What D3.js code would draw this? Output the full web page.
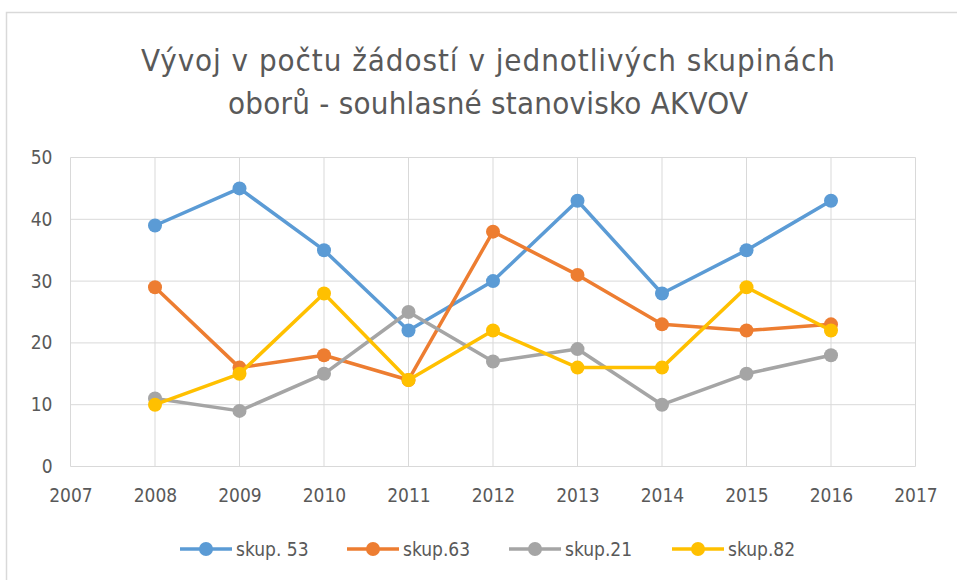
<!DOCTYPE html>
<html>
<head>
<meta charset="utf-8">
<script src="https://cdn.jsdelivr.net/npm/d3@7"></script>
<style>
  body { margin: 0; background: #fff; }
  text { font-family: "DejaVu Sans Condensed", "Liberation Sans Narrow", sans-serif; fill: #595959; }
</style>
</head>
<body>
<div id="chart-area"></div>
<script>
'use strict';
const svg_width = 957;
const svg_height = 580;

const years = [2008, 2009, 2010, 2011, 2012, 2013, 2014, 2015, 2016];
const x_ticks = [2007, 2008, 2009, 2010, 2011, 2012, 2013, 2014, 2015, 2016, 2017];
const y_ticks = [0, 10, 20, 30, 40, 50];
const series_names = ['skup. 53', 'skup.63', 'skup.21', 'skup.82'];
const series_colors = ['#5b9bd5', '#ed7d31', '#a5a5a5', '#ffc000'];
const skup53 = [39, 45, 35, 22, 30, 43, 28, 35, 43];
const skup63 = [29, 16, 18, 14, 38, 31, 23, 22, 23];
const skup21 = [11, 9, 15, 25, 17, 19, 10, 15, 18];
const skup82 = [10, 15, 28, 14, 22, 16, 16, 29, 22];
const title_lines = ['Vývoj v počtu žádostí v jednotlivých skupinách', 'oborů - souhlasné stanovisko AKVOV'];

const all_series = [skup53, skup63, skup21, skup82];

const svg = d3.select('#chart-area')
  .append('svg')
    .attr('width', svg_width)
    .attr('height', svg_height);

// outer chart frame
svg.append('rect')
  .attr('x', 6.5).attr('y', 12.5)
  .attr('width', 960).attr('height', 600)
  .attr('fill', 'none')
  .attr('stroke', '#d9d9d9')
  .attr('stroke-width', 1.5);

const x_scale = d3.scaleLinear()
  .domain([2007, 2017])
  .range([70.5, 915.5]);

const y_scale = d3.scaleLinear()
  .domain([0, 50])
  .range([466.5, 157.5]);

// gridlines
svg.append('g').selectAll('line').data(y_ticks).enter()
  .append('line')
    .attr('x1', x_scale(2007)).attr('x2', x_scale(2017))
    .attr('y1', d => y_scale(d)).attr('y2', d => y_scale(d))
    .attr('stroke', '#d9d9d9').attr('stroke-width', 1);

svg.append('g').selectAll('line').data(x_ticks).enter()
  .append('line')
    .attr('x1', d => x_scale(d)).attr('x2', d => x_scale(d))
    .attr('y1', y_scale(0)).attr('y2', y_scale(50))
    .attr('stroke', '#d9d9d9').attr('stroke-width', 1);

// axes labels
const x_axis = d3.axisBottom(x_scale).tickValues(x_ticks).tickFormat(d3.format('d')).tickSize(0).tickPadding(22);
const y_axis = d3.axisLeft(y_scale).tickValues(y_ticks).tickSize(0).tickPadding(18);

svg.append('g')
  .attr('class', 'axis')
  .attr('transform', `translate(0,${y_scale(0)})`)
  .call(x_axis)
  .call(g => g.select('.domain').remove())
  .selectAll('text').attr('font-size', 19).attr('font-family', null).attr('fill', '#595959');

svg.append('g')
  .attr('class', 'axis')
  .attr('transform', `translate(${x_scale(2007)},0)`)
  .call(y_axis)
  .call(g => g.select('.domain').remove())
  .selectAll('text').attr('font-size', 19).attr('font-family', null).attr('fill', '#595959');

// lines + markers
const line = d3.line()
  .x((d, i) => x_scale(years[i]))
  .y(d => y_scale(d));

all_series.forEach((s, k) => {
  const g = svg.append('g');
  g.append('path')
    .datum(s)
    .attr('d', line)
    .attr('fill', 'none')
    .attr('stroke', series_colors[k])
    .attr('stroke-width', 3.5)
    .attr('stroke-linejoin', 'round');
  g.selectAll('circle').data(s).enter()
    .append('circle')
      .attr('cx', (d, i) => x_scale(years[i]))
      .attr('cy', d => y_scale(d))
      .attr('r', 7)
      .attr('fill', series_colors[k]);
});

// title
svg.append('g').selectAll('text').data(title_lines).enter()
  .append('text')
    .attr('x', 488)
    .attr('y', (d, i) => 71 + i * 43)
    .attr('text-anchor', 'middle')
    .attr('font-size', 31)
    .attr('textLength', (d, i) => i === 0 ? 694 : 520)
    .attr('lengthAdjust', 'spacing')
    .text(d => d);

// legend
const legend_x = [180, 347, 509, 672];
const legend = svg.append('g').selectAll('g').data(series_names).enter()
  .append('g')
    .attr('transform', (d, i) => `translate(${legend_x[i]},549)`);
legend.append('line')
  .attr('x1', 0).attr('x2', 52)
  .attr('stroke', (d, i) => series_colors[i])
  .attr('stroke-width', 3.5);
legend.append('circle')
  .attr('cx', 26).attr('r', 7)
  .attr('fill', (d, i) => series_colors[i]);
legend.append('text')
  .attr('x', 56).attr('y', 7)
  .attr('font-size', 19)
  .text(d => d);
</script>
</body>
</html>
